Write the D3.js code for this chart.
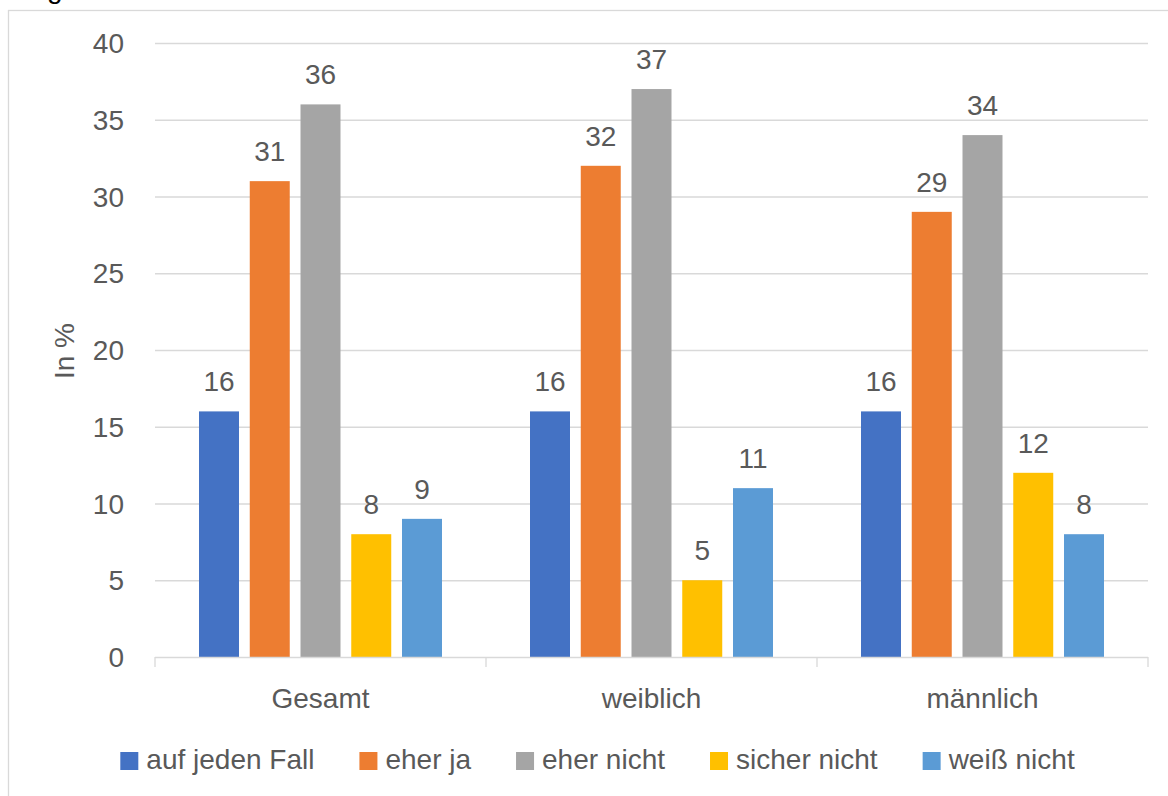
<!DOCTYPE html>
<html>
<head>
<meta charset="utf-8">
<script src="https://cdn.jsdelivr.net/npm/d3@7"></script>
<style>
  body { margin: 0; background: #fff; }
  svg { display: block; }
  text { font-family: "Liberation Sans", Arial, sans-serif; fill: #595959; }
</style>
</head>
<body>
<script>
const width = 1168;
const height = 796;

// data
const categories = ["Gesamt", "weiblich", "männlich"];
const series = ["auf jeden Fall", "eher ja", "eher nicht", "sicher nicht", "weiß nicht"];
const aufJedenFall = [16, 16, 16];
const eherJa = [31, 32, 29];
const eherNicht = [36, 37, 34];
const sicherNicht = [8, 5, 12];
const weissNicht = [9, 11, 8];
const yTicks = [0, 5, 10, 15, 20, 25, 30, 35, 40];

const colors = ["#4472C4", "#ED7D31", "#A5A5A5", "#FFC000", "#5B9BD5"];
const seriesValues = [aufJedenFall, eherJa, eherNicht, sicherNicht, weissNicht];

const plot = { left: 155, right: 1148, top: 43, bottom: 657 };

const svg = d3.select("body").append("svg")
  .attr("width", width)
  .attr("height", height);

// chart frame (extends past the picture on right and bottom)
svg.append("rect")
  .attr("x", 8.5).attr("y", 10.5)
  .attr("width", 1300).attr("height", 1000)
  .attr("fill", "none")
  .attr("stroke", "#d9d9d9")
  .attr("stroke-width", 1.3);

// cut-off caption above the frame
svg.append("text")
  .attr("x", 47).attr("y", -2)
  .style("font-size", "28px")
  .style("fill", "#000")
  .text("g");

const y = d3.scaleLinear().domain([0, 40]).range([plot.bottom, plot.top]);
const x0 = d3.scaleBand().domain(categories).range([plot.left, plot.right]);
const x1 = d3.scaleBand().domain(series)
  .range([0, x0.bandwidth()])
  .paddingInner(0.212)
  .paddingOuter(0.867);

// gridlines
svg.append("g")
  .selectAll("line")
  .data(yTicks.filter(d => d > 0))
  .join("line")
  .attr("x1", plot.left).attr("x2", plot.right)
  .attr("y1", d => y(d) + 0.5).attr("y2", d => y(d) + 0.5)
  .attr("stroke", "#d9d9d9")
  .attr("stroke-width", 1.3);

// y tick labels
svg.append("g")
  .selectAll("text")
  .data(yTicks)
  .join("text")
  .attr("x", 124)
  .attr("y", d => y(d))
  .attr("dy", "0.36em")
  .attr("text-anchor", "end")
  .style("font-size", "28px")
  .text(d => d);

// y axis title
svg.append("text")
  .attr("transform", "translate(74,351) rotate(-90)")
  .attr("text-anchor", "middle")
  .style("font-size", "28px")
  .text("In %");

// bars
const groups = svg.append("g")
  .selectAll("g")
  .data(categories)
  .join("g")
  .attr("transform", d => `translate(${x0(d)},0)`);

groups.selectAll("rect")
  .data((c, ci) => series.map((s, si) => ({ s, si, v: seriesValues[si][ci] })))
  .join("rect")
  .attr("x", d => x1(d.s))
  .attr("y", d => y(d.v))
  .attr("width", x1.bandwidth())
  .attr("height", d => y(0) - y(d.v))
  .attr("fill", d => colors[d.si]);

groups.selectAll("text")
  .data((c, ci) => series.map((s, si) => ({ s, si, v: seriesValues[si][ci] })))
  .join("text")
  .attr("x", d => x1(d.s) + x1.bandwidth() / 2)
  .attr("y", d => y(d.v) - 20)
  .attr("text-anchor", "middle")
  .style("font-size", "28px")
  .text(d => d.v);

// x axis line and ticks
svg.append("line")
  .attr("x1", plot.left).attr("x2", plot.right)
  .attr("y1", plot.bottom + 0.5).attr("y2", plot.bottom + 0.5)
  .attr("stroke", "#d9d9d9")
  .attr("stroke-width", 1.3);

const tickXs = categories.map(c => x0(c)).concat([plot.right]);
svg.append("g")
  .selectAll("line")
  .data(tickXs)
  .join("line")
  .attr("x1", d => d).attr("x2", d => d)
  .attr("y1", plot.bottom).attr("y2", plot.bottom + 10)
  .attr("stroke", "#d9d9d9")
  .attr("stroke-width", 1.3);

svg.append("g")
  .selectAll("text")
  .data(categories)
  .join("text")
  .attr("x", d => x0(d) + x0.bandwidth() / 2)
  .attr("y", 708)
  .attr("text-anchor", "middle")
  .style("font-size", "28px")
  .text(d => d);

// legend, centred, items laid out by measured text width
const gap = 45;
const legend = svg.append("g");
const items = legend.selectAll("g")
  .data(series)
  .join("g");

items.append("rect")
  .attr("width", 18).attr("height", 18)
  .attr("y", 752)
  .attr("fill", (d, i) => colors[i]);

items.append("text")
  .attr("x", 26)
  .attr("y", 769)
  .style("font-size", "28px")
  .text(d => d);

let cursor = 0;
const offsets = [];
items.each(function () {
  const w = d3.select(this).select("text").node().getComputedTextLength();
  offsets.push(cursor);
  cursor += 26 + w + gap;
});
const total = cursor - gap;
const start = 597.5 - total / 2;
items.attr("transform", (d, i) => `translate(${start + offsets[i]},0)`);
</script>
</body>
</html>
